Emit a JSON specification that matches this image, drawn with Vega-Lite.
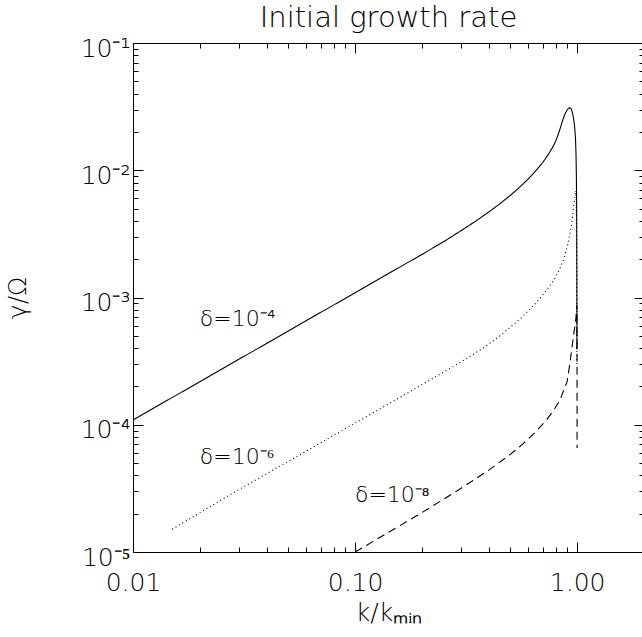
{
  "$schema": "https://vega.github.io/schema/vega-lite/v6.json",
  "width": 511,
  "height": 509,
  "autosize": {"type": "none"},
  "padding": {"left": 133, "top": 43, "right": 0, "bottom": 85},
  "background": "white",
  "config": {
    "view": {"stroke": null},
    "font": "DejaVu Sans",
    "axis": {
      "grid": false,
      "domainColor": "black",
      "domainWidth": 1,
      "tickColor": "black",
      "tickWidth": 1,
      "labelColor": "black",
      "titleColor": "black",
      "labelFont": "DejaVu Sans",
      "titleFont": "DejaVu Sans",
      "labelFontSize": 25,
      "titleFontSize": 25,
      "labelFontWeight": 200,
      "titleFontWeight": 200,
      "labelOverlap": false,
      "labelFlush": false
    }
  },
  "title": {
    "text": "Initial growth rate",
    "fontSize": 29,
    "fontWeight": 200,
    "font": "DejaVu Sans",
    "color": "black",
    "anchor": "middle",
    "frame": "group",
    "offset": 3
  },
  "datasets": {
    "curves": [
      {"series": "d4", "k": 0.01, "g": 1.09e-4},
      {"series": "d4", "k": 0.02, "g": 2.18e-4},
      {"series": "d4", "k": 0.05, "g": 5.45e-4},
      {"series": "d4", "k": 0.1, "g": 1.09e-3},
      {"series": "d4", "k": 0.15, "g": 1.635e-3},
      {"series": "d4", "k": 0.2, "g": 2.18e-3},
      {"series": "d4", "k": 0.25, "g": 2.74e-3},
      {"series": "d4", "k": 0.3, "g": 3.35e-3},
      {"series": "d4", "k": 0.35, "g": 3.99e-3},
      {"series": "d4", "k": 0.4, "g": 4.70e-3},
      {"series": "d4", "k": 0.45, "g": 5.47e-3},
      {"series": "d4", "k": 0.5, "g": 6.34e-3},
      {"series": "d4", "k": 0.55, "g": 7.34e-3},
      {"series": "d4", "k": 0.6, "g": 8.49e-3},
      {"series": "d4", "k": 0.65, "g": 9.85e-3},
      {"series": "d4", "k": 0.7, "g": 1.151e-2},
      {"series": "d4", "k": 0.74, "g": 1.322e-2},
      {"series": "d4", "k": 0.78, "g": 1.54e-2},
      {"series": "d4", "k": 0.8, "g": 1.69e-2},
      {"series": "d4", "k": 0.82, "g": 1.89e-2},
      {"series": "d4", "k": 0.84, "g": 2.15e-2},
      {"series": "d4", "k": 0.855, "g": 2.38e-2},
      {"series": "d4", "k": 0.87, "g": 2.61e-2},
      {"series": "d4", "k": 0.885, "g": 2.81e-2},
      {"series": "d4", "k": 0.9, "g": 2.96e-2},
      {"series": "d4", "k": 0.912, "g": 3.05e-2},
      {"series": "d4", "k": 0.925, "g": 3.1e-2},
      {"series": "d4", "k": 0.935, "g": 3.08e-2},
      {"series": "d4", "k": 0.945, "g": 2.97e-2},
      {"series": "d4", "k": 0.955, "g": 2.78e-2},
      {"series": "d4", "k": 0.965, "g": 2.5e-2},
      {"series": "d4", "k": 0.972, "g": 2.27e-2},
      {"series": "d4", "k": 0.977, "g": 2.07e-2},
      {"series": "d4", "k": 0.983, "g": 1.78e-2},
      {"series": "d4", "k": 0.988, "g": 1.36e-2},
      {"series": "d4", "k": 0.992, "g": 9.0e-3},
      {"series": "d4", "k": 0.9947, "g": 5.5e-3},
      {"series": "d4", "k": 0.9968, "g": 1.6e-3},
      {"series": "d4", "k": 0.998, "g": 3.9e-4},
      {"series": "d6", "k": 0.015, "g": 1.51e-5},
      {"series": "d6", "k": 0.03, "g": 3.1e-5},
      {"series": "d6", "k": 0.05, "g": 5.15e-5},
      {"series": "d6", "k": 0.1, "g": 1.03e-4},
      {"series": "d6", "k": 0.15, "g": 1.545e-4},
      {"series": "d6", "k": 0.2, "g": 2.06e-4},
      {"series": "d6", "k": 0.25, "g": 2.59e-4},
      {"series": "d6", "k": 0.3, "g": 3.12e-4},
      {"series": "d6", "k": 0.378, "g": 4.01e-4},
      {"series": "d6", "k": 0.45, "g": 5.01e-4},
      {"series": "d6", "k": 0.553, "g": 6.78e-4},
      {"series": "d6", "k": 0.613, "g": 8.08e-4},
      {"series": "d6", "k": 0.658, "g": 9.22e-4},
      {"series": "d6", "k": 0.72, "g": 1.112e-3},
      {"series": "d6", "k": 0.781, "g": 1.351e-3},
      {"series": "d6", "k": 0.83, "g": 1.641e-3},
      {"series": "d6", "k": 0.866, "g": 1.962e-3},
      {"series": "d6", "k": 0.9, "g": 2.456e-3},
      {"series": "d6", "k": 0.928, "g": 3.154e-3},
      {"series": "d6", "k": 0.945, "g": 3.796e-3},
      {"series": "d6", "k": 0.96, "g": 4.846e-3},
      {"series": "d6", "k": 0.972, "g": 5.807e-3},
      {"series": "d6", "k": 0.982, "g": 6.575e-3},
      {"series": "d6", "k": 0.988, "g": 6.92e-3},
      {"series": "d6", "k": 0.992, "g": 5.0e-3},
      {"series": "d6", "k": 0.995, "g": 2.0e-3},
      {"series": "d6", "k": 0.997, "g": 7.0e-4},
      {"series": "d6", "k": 0.998, "g": 3.0e-4},
      {"series": "d8", "k": 0.1, "g": 1.0e-5},
      {"series": "d8", "k": 0.15, "g": 1.515e-5},
      {"series": "d8", "k": 0.2, "g": 2.04e-5},
      {"series": "d8", "k": 0.29, "g": 3.045e-5},
      {"series": "d8", "k": 0.4, "g": 4.4e-5},
      {"series": "d8", "k": 0.5, "g": 5.85e-5},
      {"series": "d8", "k": 0.57, "g": 7.07e-5},
      {"series": "d8", "k": 0.65, "g": 8.78e-5},
      {"series": "d8", "k": 0.73, "g": 1.095e-4},
      {"series": "d8", "k": 0.79, "g": 1.327e-4},
      {"series": "d8", "k": 0.84, "g": 1.579e-4},
      {"series": "d8", "k": 0.87, "g": 1.88e-4},
      {"series": "d8", "k": 0.9, "g": 2.16e-4},
      {"series": "d8", "k": 0.92, "g": 2.76e-4},
      {"series": "d8", "k": 0.945, "g": 3.87e-4},
      {"series": "d8", "k": 0.96, "g": 4.8e-4},
      {"series": "d8", "k": 0.975, "g": 5.85e-4},
      {"series": "d8", "k": 0.985, "g": 6.65e-4},
      {"series": "d8", "k": 0.993, "g": 7.7e-4},
      {"series": "d8", "k": 0.998, "g": 8.7e-4},
      {"series": "d8", "k": 0.9995, "g": 6.56e-5}
    ],
    "labels": [
      {"k": 0.02, "g": 5.97e-4, "label": "δ=10⁻⁴"},
      {"k": 0.02, "g": 4.89e-5, "label": "δ=10⁻⁶"},
      {"k": 0.0999, "g": 2.48e-5, "label": "δ=10⁻⁸"}
    ]
  },
  "layer": [
    {
      "data": {"name": "curves"},
      "mark": {"type": "line", "color": "black", "strokeWidth": 1.1},
      "encoding": {
        "x": {
          "field": "k",
          "type": "quantitative",
          "scale": {"type": "log", "domain": [0.01, 2], "nice": false},
          "title": "k/kₘᵢₙ",
          "axis": {
            "orient": "bottom",
            "values": [0.01, 0.02, 0.03, 0.04, 0.05, 0.06, 0.07, 0.08, 0.09, 0.1, 0.2, 0.3, 0.4, 0.5, 0.6, 0.7, 0.8, 0.9, 1, 2],
            "tickSize": {"condition": {"test": "abs(log(datum.value)/LN10 - round(log(datum.value)/LN10)) < 0.001", "value": -10}, "value": -5},
            "labelExpr": "abs(log(datum.value)/LN10 - round(log(datum.value)/LN10)) < 0.001 && datum.value < 1.5 ? format(datum.value, '.2f') : ''",
            "labelPadding": 28,
            "titlePadding": 0
          }
        },
        "y": {
          "field": "g",
          "type": "quantitative",
          "scale": {"type": "log", "domain": [1e-5, 0.1], "nice": false},
          "title": "γ/Ω",
          "axis": {
            "orient": "left",
            "values": [1e-5, 2e-5, 3e-5, 4e-5, 5e-5, 6e-5, 7e-5, 8e-5, 9e-5, 1e-4, 2e-4, 3e-4, 4e-4, 5e-4, 6e-4, 7e-4, 8e-4, 9e-4, 1e-3, 2e-3, 3e-3, 4e-3, 5e-3, 6e-3, 7e-3, 8e-3, 9e-3, 1e-2, 2e-2, 3e-2, 4e-2, 5e-2, 6e-2, 7e-2, 8e-2, 9e-2, 0.1],
            "tickSize": {"condition": {"test": "abs(log(datum.value)/LN10 - round(log(datum.value)/LN10)) < 0.001", "value": -10}, "value": -5},
            "labelExpr": "abs(log(datum.value)/LN10 - round(log(datum.value)/LN10)) < 0.001 ? '10' + ['⁻⁵','⁻⁴','⁻³','⁻²','⁻¹'][round(log(datum.value)/LN10)+5] : ''",
            "labelPadding": 13,
            "labelOffset": 5,
            "titlePadding": 50
          }
        },
        "strokeDash": {
          "field": "series",
          "type": "nominal",
          "scale": {"domain": ["d4", "d6", "d8"], "range": [[1, 0], [1, 3], [8, 5]]},
          "legend": null
        }
      }
    },
    {
      "data": {"name": "labels"},
      "mark": {"type": "text", "align": "left", "baseline": "alphabetic", "fontSize": 22, "fontWeight": 200, "font": "DejaVu Sans", "color": "black"},
      "encoding": {
        "x": {
          "field": "k",
          "type": "quantitative",
          "scale": {"type": "log", "domain": [0.01, 2], "nice": false},
          "axis": {
            "orient": "top",
            "title": null,
            "labels": false,
            "values": [0.01, 0.02, 0.03, 0.04, 0.05, 0.06, 0.07, 0.08, 0.09, 0.1, 0.2, 0.3, 0.4, 0.5, 0.6, 0.7, 0.8, 0.9, 1, 2],
            "tickSize": {"condition": {"test": "abs(log(datum.value)/LN10 - round(log(datum.value)/LN10)) < 0.001", "value": -10}, "value": -5}
          }
        },
        "y": {
          "field": "g",
          "type": "quantitative",
          "scale": {"type": "log", "domain": [1e-5, 0.1], "nice": false},
          "axis": {
            "orient": "right",
            "title": null,
            "labels": false,
            "values": [1e-5, 2e-5, 3e-5, 4e-5, 5e-5, 6e-5, 7e-5, 8e-5, 9e-5, 1e-4, 2e-4, 3e-4, 4e-4, 5e-4, 6e-4, 7e-4, 8e-4, 9e-4, 1e-3, 2e-3, 3e-3, 4e-3, 5e-3, 6e-3, 7e-3, 8e-3, 9e-3, 1e-2, 2e-2, 3e-2, 4e-2, 5e-2, 6e-2, 7e-2, 8e-2, 9e-2, 0.1],
            "tickSize": {"condition": {"test": "abs(log(datum.value)/LN10 - round(log(datum.value)/LN10)) < 0.001", "value": -10}, "value": -5}
          }
        },
        "text": {"field": "label", "type": "nominal"}
      }
    }
  ],
  "resolve": {"axis": {"x": "independent", "y": "independent"}}
}
